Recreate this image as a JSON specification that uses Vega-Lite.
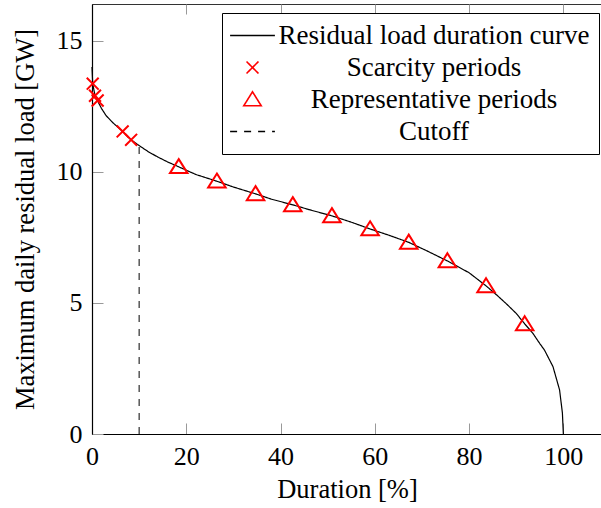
{
  "$schema": "https://vega.github.io/schema/vega-lite/v6.json",
  "width": 510,
  "height": 430,
  "autosize": {"type": "none"},
  "padding": {"left": 92, "top": 4, "right": 0, "bottom": 74},
  "background": "white",
  "config": {
    "view": {"stroke": "#333", "strokeWidth": 1},
    "font": "Liberation Serif, Times New Roman, DejaVu Serif, serif",
    "axis": {
      "labelFont": "Liberation Serif, Times New Roman, DejaVu Serif, serif",
      "labelFontSize": 26,
      "labelColor": "black",
      "titleFont": "Liberation Serif, Times New Roman, DejaVu Serif, serif",
      "titleFontSize": 26.5,
      "titleFontWeight": "normal",
      "titleColor": "black",
      "tickColor": "#999",
      "domainColor": "black",
      "grid": false,
      "labelOverlap": false,
      "labelFlush": false
    },
    "legend": {
      "labelFont": "Liberation Serif, Times New Roman, DejaVu Serif, serif",
      "labelFontSize": 27,
      "labelColor": "black",
      "labelLimit": 0
    }
  },
  "resolve": {"axis": {"x": "independent", "y": "shared"}},
  "data": {
    "values": [
      {"series": "Residual load duration curve", "x": 0, "y": 14.0},
      {"series": "Residual load duration curve", "x": 0.15, "y": 13.36},
      {"series": "Residual load duration curve", "x": 0.6, "y": 12.95},
      {"series": "Residual load duration curve", "x": 1.2, "y": 12.7},
      {"series": "Residual load duration curve", "x": 2, "y": 12.42},
      {"series": "Residual load duration curve", "x": 3, "y": 12.14},
      {"series": "Residual load duration curve", "x": 4.5, "y": 11.86},
      {"series": "Residual load duration curve", "x": 6.5, "y": 11.54},
      {"series": "Residual load duration curve", "x": 8.3, "y": 11.22},
      {"series": "Residual load duration curve", "x": 10, "y": 11.0},
      {"series": "Residual load duration curve", "x": 12, "y": 10.76},
      {"series": "Residual load duration curve", "x": 14, "y": 10.56},
      {"series": "Residual load duration curve", "x": 16, "y": 10.38},
      {"series": "Residual load duration curve", "x": 18.4, "y": 10.19},
      {"series": "Residual load duration curve", "x": 22, "y": 9.9},
      {"series": "Residual load duration curve", "x": 26.5, "y": 9.64},
      {"series": "Residual load duration curve", "x": 30, "y": 9.42},
      {"series": "Residual load duration curve", "x": 34.7, "y": 9.16},
      {"series": "Residual load duration curve", "x": 38, "y": 8.96},
      {"series": "Residual load duration curve", "x": 42.6, "y": 8.74},
      {"series": "Residual load duration curve", "x": 46, "y": 8.56},
      {"series": "Residual load duration curve", "x": 50.9, "y": 8.32},
      {"series": "Residual load duration curve", "x": 55, "y": 8.08},
      {"series": "Residual load duration curve", "x": 59.0, "y": 7.82},
      {"series": "Residual load duration curve", "x": 63, "y": 7.58},
      {"series": "Residual load duration curve", "x": 67.2, "y": 7.31},
      {"series": "Residual load duration curve", "x": 71, "y": 6.99},
      {"series": "Residual load duration curve", "x": 75.4, "y": 6.6},
      {"series": "Residual load duration curve", "x": 80, "y": 6.15},
      {"series": "Residual load duration curve", "x": 83.6, "y": 5.65},
      {"series": "Residual load duration curve", "x": 86, "y": 5.28},
      {"series": "Residual load duration curve", "x": 88, "y": 4.95},
      {"series": "Residual load duration curve", "x": 90, "y": 4.6},
      {"series": "Residual load duration curve", "x": 91.8, "y": 4.2},
      {"series": "Residual load duration curve", "x": 93.5, "y": 3.85},
      {"series": "Residual load duration curve", "x": 95, "y": 3.45},
      {"series": "Residual load duration curve", "x": 96, "y": 3.2},
      {"series": "Residual load duration curve", "x": 97.8, "y": 2.57},
      {"series": "Residual load duration curve", "x": 99.2, "y": 1.68},
      {"series": "Residual load duration curve", "x": 99.8, "y": 0.8},
      {"series": "Residual load duration curve", "x": 100, "y": 0},
      {"series": "Scarcity periods", "x": 0.15, "y": 13.36},
      {"series": "Scarcity periods", "x": 0.64, "y": 12.9},
      {"series": "Scarcity periods", "x": 1.2, "y": 12.72},
      {"series": "Scarcity periods", "x": 6.5, "y": 11.54},
      {"series": "Scarcity periods", "x": 8.3, "y": 11.22},
      {"series": "Representative periods", "x": 18.4, "y": 10.19},
      {"series": "Representative periods", "x": 26.5, "y": 9.64},
      {"series": "Representative periods", "x": 34.7, "y": 9.16},
      {"series": "Representative periods", "x": 42.6, "y": 8.74},
      {"series": "Representative periods", "x": 50.9, "y": 8.32},
      {"series": "Representative periods", "x": 59.0, "y": 7.82},
      {"series": "Representative periods", "x": 67.2, "y": 7.31},
      {"series": "Representative periods", "x": 75.4, "y": 6.6},
      {"series": "Representative periods", "x": 83.6, "y": 5.65},
      {"series": "Representative periods", "x": 91.8, "y": 4.2},
      {"series": "Cutoff", "x": 10, "y": 0, "y2": 10.98}
    ]
  },
  "layer": [
    {
      "transform": [{"filter": "datum.series === 'Residual load duration curve'"}],
      "mark": {"type": "line", "strokeWidth": 1.2},
      "encoding": {
        "x": {
          "field": "x", "type": "quantitative",
          "scale": {"domain": [0, 108.2], "nice": false, "zero": false},
          "axis": {"orient": "bottom", "title": "Duration [%]", "values": [0, 20, 40, 60, 80, 100], "tickSize": -11, "labelPadding": 20, "titlePadding": 7, "domainWidth": 1.2}
        },
        "y": {
          "field": "y", "type": "quantitative",
          "scale": {"domain": [0, 16.4], "nice": false},
          "axis": {"orient": "left", "title": "Maximum daily residual load [GW]", "values": [0, 5, 10, 15], "tickSize": -11, "labelPadding": 21, "titlePadding": 17, "domainWidth": 1.2}
        },
        "stroke": {
          "field": "series", "type": "nominal",
          "scale": {"domain": ["Residual load duration curve", "Scarcity periods", "Representative periods", "Cutoff"], "range": ["black", "red", "red", "black"]},
          "legend": {"title": null, "orient": "none", "legendX": 130, "legendY": 9, "padding": 9, "rowPadding": 4, "labelAlign": "center", "labelOffset": 168, "symbolSize": 196, "symbolOffset": 8, "symbolStrokeWidth": 1.6, "strokeColor": "black", "fillColor": "white"}
        },
        "strokeDash": {
          "field": "series", "type": "nominal",
          "scale": {"domain": ["Residual load duration curve", "Scarcity periods", "Representative periods", "Cutoff"], "range": [[1, 0], [1, 0], [1, 0], [7, 7]]},
          "legend": {"title": null, "orient": "none", "legendX": 130, "legendY": 9, "padding": 9, "rowPadding": 4, "labelAlign": "center", "labelOffset": 168, "symbolSize": 196, "symbolOffset": 8, "symbolStrokeWidth": 1.6, "strokeColor": "black", "fillColor": "white"}
        }
      }
    },
    {
      "transform": [{"filter": "datum.series === 'Cutoff'"}],
      "mark": {"type": "rule", "strokeWidth": 1},
      "encoding": {
        "x": {
          "field": "x", "type": "quantitative",
          "axis": {"orient": "top", "title": null, "labels": false, "domain": false, "values": [20, 40, 60, 80, 100], "tickSize": -10}
        },
        "y": {
          "field": "y", "type": "quantitative",
          "axis": {"orient": "left", "title": "Maximum daily residual load [GW]", "values": [0, 5, 10, 15], "tickSize": -11, "labelPadding": 21, "titlePadding": 17, "domainWidth": 1.2}
        },
        "y2": {"field": "y2"},
        "stroke": {
          "field": "series", "type": "nominal",
          "scale": {"domain": ["Residual load duration curve", "Scarcity periods", "Representative periods", "Cutoff"], "range": ["black", "red", "red", "black"]},
          "legend": {"title": null, "orient": "none", "legendX": 130, "legendY": 9, "padding": 9, "rowPadding": 4, "labelAlign": "center", "labelOffset": 168, "symbolSize": 196, "symbolOffset": 8, "symbolStrokeWidth": 1.6, "strokeColor": "black", "fillColor": "white"}
        },
        "strokeDash": {
          "field": "series", "type": "nominal",
          "scale": {"domain": ["Residual load duration curve", "Scarcity periods", "Representative periods", "Cutoff"], "range": [[1, 0], [1, 0], [1, 0], [7, 7]]},
          "legend": {"title": null, "orient": "none", "legendX": 130, "legendY": 9, "padding": 9, "rowPadding": 4, "labelAlign": "center", "labelOffset": 168, "symbolSize": 196, "symbolOffset": 8, "symbolStrokeWidth": 1.6, "strokeColor": "black", "fillColor": "white"}
        }
      }
    },
    {
      "transform": [{"filter": "datum.series === 'Scarcity periods' || datum.series === 'Representative periods'"}],
      "mark": {"type": "point", "filled": false, "strokeWidth": 2, "size": 196, "opacity": 1},
      "encoding": {
        "x": {
          "field": "x", "type": "quantitative",
          "axis": {"orient": "bottom", "title": null, "labels": false, "ticks": false, "domain": false}
        },
        "y": {
          "field": "y", "type": "quantitative",
          "axis": {"orient": "left", "title": "Maximum daily residual load [GW]", "values": [0, 5, 10, 15], "tickSize": -11, "labelPadding": 21, "titlePadding": 17, "domainWidth": 1.2}
        },
        "stroke": {
          "field": "series", "type": "nominal",
          "scale": {"domain": ["Residual load duration curve", "Scarcity periods", "Representative periods", "Cutoff"], "range": ["black", "red", "red", "black"]},
          "legend": {"title": null, "orient": "none", "legendX": 130, "legendY": 9, "padding": 9, "rowPadding": 4, "labelAlign": "center", "labelOffset": 168, "symbolSize": 196, "symbolOffset": 8, "symbolStrokeWidth": 1.6, "strokeColor": "black", "fillColor": "white"}
        },
        "shape": {
          "field": "series", "type": "nominal",
          "scale": {"domain": ["Residual load duration curve", "Scarcity periods", "Representative periods", "Cutoff"], "range": ["M-3.2,0H3.2", "M-0.85,-0.85L0.85,0.85M-0.85,0.85L0.85,-0.85", "M0,-1.1L1.25,0.9L-1.25,0.9Z", "M-3.2,0H3.2"]},
          "legend": {"title": null, "orient": "none", "legendX": 130, "legendY": 9, "padding": 9, "rowPadding": 4, "labelAlign": "center", "labelOffset": 168, "symbolSize": 196, "symbolOffset": 8, "symbolStrokeWidth": 1.6, "strokeColor": "black", "fillColor": "white"}
        }
      }
    }
  ]
}
